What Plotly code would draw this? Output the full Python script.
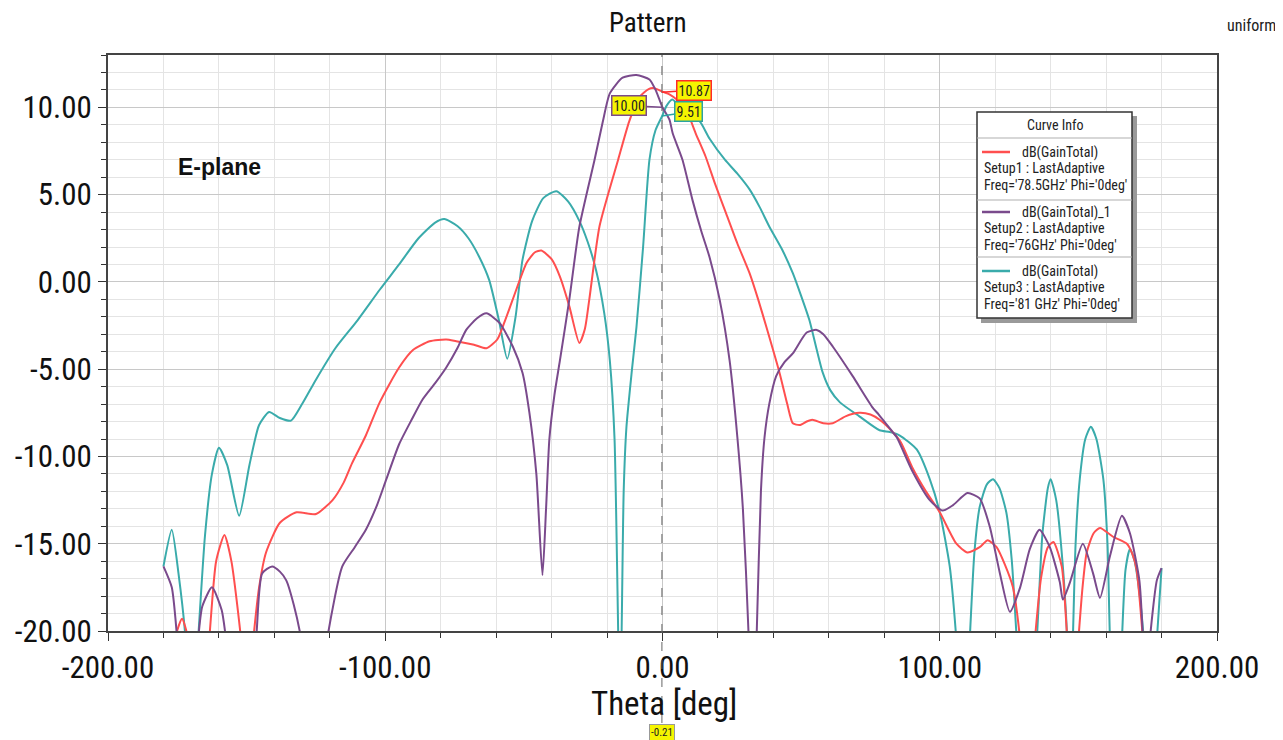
import plotly.graph_objects as go

# ---------------- data ----------------
theta_81 = [-180, -177, -174.5, -172, -170, -167.5, -165, -162.5, -160, -157, -152.7, -149, -145.5, -141.9,
            -138, -134, -130, -125, -118, -110, -102, -95, -88, -82, -78.7, -74, -70, -66, -62.5, -59, -56,
            -53, -50.5, -47, -43, -38.3, -34, -30, -27, -24, -21, -19, -17.3, -15.3, -14, -13, -11, -9.4,
            -7, -4.7, -2.5, 0, 1.5, 3.5, 6, 10.8, 13.4, 17, 22.5, 27, 31.4, 35, 38.6, 43, 47, 50, 53, 55.5,
            57.8, 60.5, 64, 71, 78.3, 82, 85.6, 91.7, 96.4, 100, 103.6, 106, 108.5, 110.8, 112.5, 114.4,
            117, 119.2, 121.5, 124, 126, 127.8, 131.5, 135, 137, 139, 140, 142, 144.4, 146, 147, 148, 149,
            150.5, 152.5, 154.5, 156.5, 159, 160.5, 161.4, 163.5, 165.7, 167, 168.6, 170.3, 172, 173.6,
            176, 178.3, 180]
gain_81 = [-16.3, -14.2, -16.8, -20.5, -27, -20.5, -14.5, -11, -9.5, -10.5, -13.4, -10.5, -8.2, -7.45,
           -7.8, -7.95, -7.0, -5.6, -3.8, -2.2, -0.45, 1.0, 2.5, 3.4, 3.6, 3.2, 2.5, 1.4, 0.1, -2.2, -4.4,
           -2.0, 1.26, 3.5, 4.8, 5.2, 4.6, 3.5, 2.3, 0.7, -1.8, -4.5, -9.0, -25, -12, -8.3, -5.0, -2.6,
           2.0, 7.0, 8.7, 9.55, 10.1, 10.45, 10.1, 9.4, 9.2, 8.2, 7.0, 6.2, 5.3, 4.3, 3.15, 1.9, 0.5, -0.8,
           -2.2, -3.8, -5.2, -6.2, -6.9, -7.7, -8.5, -8.6, -8.8, -9.6, -11.3, -13.2, -16.3, -20.5, -27,
           -20.5, -15.5, -12.9, -11.6, -11.3, -11.8, -13.2, -16, -20.5, -28, -20.5, -14.5, -11.8, -11.3,
           -12.5, -16.3, -20.5, -25, -20.5, -15, -11.3, -9.0, -8.3, -9.0, -11.3, -15, -20.5, -28, -20.5,
           -16.5, -15.3, -16.0, -17.8, -20.5, -27, -20.5, -16.4]

theta_785 = [-180, -176, -173.3, -171, -167, -163.5, -161, -158, -155.5, -152, -150, -147.6, -145.5, -143,
             -138, -132, -125, -119, -115, -112, -107, -102, -95, -90, -84, -78, -74.4, -68, -63.5, -59.6,
             -57, -54, -49, -46, -43.7, -40, -37, -33.6, -30, -28, -26.4, -22.7, -16, -12, -8.3, -5, -3,
             0, 2.5, 5.5, 8.7, 12, 15.5, 19, 23, 27, 31.4, 34.5, 37.5, 42.2, 45, 47, 49.5, 52, 54, 58, 61.4,
             66, 71, 75, 78.3, 83, 86, 90, 95, 100, 106, 110, 114.4, 117.3, 120.5, 123.5, 126.4, 129, 131.5,
             134.3, 136.5, 139, 141, 144, 146, 148, 150, 151.5, 153, 155.5, 157.8, 162.5, 167.5, 169.5, 171,
             173.3, 176, 180]
gain_785 = [-24, -20.5, -19.3, -20.5, -27, -20.5, -16, -14.5, -16, -20.5, -25, -20.5, -17.5, -15.5,
            -13.8, -13.2, -13.3, -12.5, -11.5, -10.4, -8.8, -6.9, -4.9, -3.9, -3.4, -3.3, -3.4, -3.6, -3.8,
            -3.3, -2.3, -1.0, 1.1, 1.7, 1.8, 1.3, 0.3, -1.4, -3.5, -2.7, -1.0, 3.2, 7.0, 9.2, 10.6, 11.05,
            11.1, 10.9, 10.75, 10.4, 9.8, 8.5, 7.2, 5.6, 3.9, 2.2, 0.5, -1.0, -2.6, -5.2, -7.0, -8.1, -8.2,
            -8.0, -7.9, -8.1, -8.1, -7.7, -7.5, -7.6, -7.9, -8.6, -9.2, -10.6, -12.0, -13.2, -15.0, -15.5,
            -15.2, -14.8, -15.2, -16.2, -17.5, -20.5, -26, -20.5, -17, -15.2, -14.9, -16.3, -20.5, -25,
            -20.5, -17.5, -15.5, -14.4, -14.1, -14.6, -15.0, -15.6, -16.5, -20.5, -27, -28]

theta_76 = [-180, -177, -175, -171, -167.5, -166, -162.5, -159, -157.4, -152, -146.6, -144.4, -140.8, -138,
            -135.7, -133, -130.3, -126, -121, -115.5, -111, -107, -103, -99.6, -95, -90.5, -86.6, -82, -78,
            -74, -70.8, -67, -63.5, -58.8, -54, -50.5, -48, -45.5, -43.3, -42, -40.8, -39, -37, -33.6, -30,
            -24.5, -21.5, -19, -14.4, -9.4, -4.7, -2.5, -1, 0, 2.5, 3.7, 7.2, 10.8, 14, 17, 20.6, 24.2, 27,
            29, 31, 32.3, 34, 35.5, 36.8, 38.5, 41, 44, 47, 52, 55.6, 58, 61.4, 68.6, 75.8, 78, 83, 84.5,
            90, 96.4, 101, 104.7, 110, 114.4, 118, 121.7, 125.3, 129, 132.5, 136, 139.7, 143.3, 144.4, 147,
            151.6, 155.3, 157.8, 161.4, 165.7, 168.6, 172, 173.3, 174.5, 175.8, 178.3, 180]
gain_76 = [-16.3, -17.5, -20.5, -28, -20.5, -18.6, -17.5, -18.8, -20.5, -28, -20.5, -16.7, -16.3, -16.6,
           -17.1, -18.5, -20.5, -27, -20.5, -16.3, -15.2, -14.2, -12.8, -11.3, -9.3, -7.9, -6.75, -5.8,
           -4.9, -3.8, -2.75, -2.1, -1.8, -2.35, -3.7, -5.2, -7.5, -11, -16.8, -13, -9.0, -6.5, -4.5, -1.0,
           3.15, 7.0, 9.2, 10.8, 11.7, 11.85, 11.6, 11.0, 10.4, 10.0, 9.3, 8.5, 7.0, 4.7, 2.9, 1.4, -1.0,
           -4.5, -8.9, -13, -20, -28, -20, -12, -8.9, -7.0, -5.4, -4.6, -4.1, -2.9, -2.75, -3.0, -3.7, -5.4,
           -7.2, -7.6, -8.6, -8.9, -10.8, -12.5, -13.1, -12.8, -12.1, -12.4, -14.0, -16.7, -18.9, -17.5,
           -15.3, -14.2, -15.2, -17.2, -18.2, -17.2, -15.0, -16.7, -18.1, -15.7, -13.4, -14.4, -17.1,
           -20.5, -25, -20.5, -17.1, -16.4]

x_tick_vals = [-200, -100, 0, 100, 200]
x_tick_text = ["-200.00", "-100.00", "0.00", "100.00", "200.00"]
y_tick_vals = [-20, -15, -10, -5, 0, 5, 10]
y_tick_text = ["-20.00", "-15.00", "-10.00", "-5.00", "0.00", "5.00", "10.00"]

marker_theta = -0.21
marker_785 = 10.87
marker_76 = 10.00
marker_81 = 9.51

legend_entries = [
    ("dB(GainTotal)", "Setup1 : LastAdaptive", "Freq='78.5GHz' Phi='0deg'"),
    ("dB(GainTotal)_1", "Setup2 : LastAdaptive", "Freq='76GHz' Phi='0deg'"),
    ("dB(GainTotal)", "Setup3 : LastAdaptive", "Freq='81 GHz' Phi='0deg'"),
]

# ---------------- styling ----------------
RED = "#ff4f4f"
PURPLE = "#7a4a8c"
TEAL = "#3aabab"
NARROW = "Roboto Condensed, Liberation Sans Narrow, Arial Narrow, sans-serif"

OFF = 8  # page body margin
W, H = 1283 - OFF, 740 - OFF
ML, MT = 108 - OFF, 55 - OFF
MR = W - (1217 - OFF)
MB = H - (631 - OFF)
PW, PH = W - ML - MR, H - MT - MB


def px2x(px):
    """reference screen pixel -> paper x"""
    return (px - OFF - ML) / PW


def px2y(py):
    """reference screen pixel -> paper y"""
    return (H - MB - (py - OFF)) / PH


fig = go.Figure()
for th, g, col in [(theta_81, gain_81, TEAL), (theta_785, gain_785, RED), (theta_76, gain_76, PURPLE)]:
    fig.add_trace(go.Scatter(x=th, y=g, mode="lines",
                             line=dict(color=col, width=2, shape="spline", smoothing=0.6),
                             showlegend=False, hoverinfo="skip"))

shapes = []
annotations = []

# marker dashed line
shapes.append(dict(type="line", xref="x", yref="paper", x0=marker_theta, x1=marker_theta,
                   y0=px2y(723), y1=1, line=dict(color="#666666", width=1, dash="dash"), layer="above"))

# legend box
shapes.append(dict(type="rect", xref="paper", yref="paper", x0=px2x(981), x1=px2x(1137),
                   y0=px2y(323), y1=px2y(116), fillcolor="#9a9a9a", line=dict(width=0)))
shapes.append(dict(type="rect", xref="paper", yref="paper", x0=px2x(977), x1=px2x(1132),
                   y0=px2y(318), y1=px2y(112), fillcolor="white", line=dict(color="#333333", width=1.5)))
for sy in [138, 200, 257]:
    shapes.append(dict(type="line", xref="paper", yref="paper", x0=px2x(977), x1=px2x(1132),
                       y0=px2y(sy), y1=px2y(sy), line=dict(color="#b0b0b0", width=1.2)))
annotations.append(dict(xref="paper", yref="paper", x=px2x(1055), y=px2y(125), text="Curve Info",
                        showarrow=False, font=dict(family=NARROW, size=14, color="#222"),
                        xanchor="center", yanchor="middle"))
for (l1, l2, l3), col, y0 in zip(legend_entries, [RED, PURPLE, TEAL], [152, 212, 271]):
    shapes.append(dict(type="line", xref="paper", yref="paper", x0=px2x(982), x1=px2x(1010),
                       y0=px2y(y0), y1=px2y(y0), line=dict(color=col, width=2.5)))
    annotations.append(dict(xref="paper", yref="paper", x=px2x(1020), y=px2y(y0), text=l1,
                            showarrow=False, font=dict(family=NARROW, size=14, color="#222"),
                            xanchor="left", yanchor="middle"))
    annotations.append(dict(xref="paper", yref="paper", x=px2x(982), y=px2y(y0 + 16), text=l2,
                            showarrow=False, font=dict(family=NARROW, size=14, color="#222"),
                            xanchor="left", yanchor="middle"))
    annotations.append(dict(xref="paper", yref="paper", x=px2x(982), y=px2y(y0 + 33), text=l3,
                            showarrow=False, font=dict(family=NARROW, size=14, color="#222"),
                            xanchor="left", yanchor="middle"))

# marker labels
for val, col, ax, ay in [(marker_785, "#ff2a2a", 32, -2), (marker_76, "#7a4a8c", -33, -2),
                         (marker_81, "#2aa3a3", 27, -4)]:
    annotations.append(dict(xref="x", yref="y", x=marker_theta, y=val, text=f"{val:.2f}",
                            showarrow=True, arrowhead=0, arrowwidth=1.5, arrowcolor=col, ax=ax, ay=ay,
                            bgcolor="#f5f500", bordercolor=col, borderwidth=1.5, borderpad=1,
                            font=dict(family=NARROW, size=14, color="#222")))
annotations.append(dict(xref="x", yref="paper", x=marker_theta, y=px2y(732), text=f"{marker_theta:.2f}",
                        showarrow=False, bgcolor="#f5f500", bordercolor="#999999", borderwidth=1,
                        borderpad=1, font=dict(family=NARROW, size=11, color="#222"),
                        xanchor="center", yanchor="middle"))

# texts
annotations.append(dict(xref="paper", yref="paper", x=px2x(664), y=px2y(703), text="Theta [deg]",
                        showarrow=False, font=dict(family=NARROW, size=33, color="#111"),
                        xanchor="center", yanchor="middle"))
annotations.append(dict(xref="paper", yref="paper", x=px2x(648), y=px2y(23), text="Pattern",
                        showarrow=False, font=dict(family=NARROW, size=27, color="#111"),
                        xanchor="center", yanchor="middle"))
annotations.append(dict(xref="paper", yref="paper", x=px2x(1251), y=px2y(25), text="uniform",
                        showarrow=False, font=dict(family=NARROW, size=16, color="#222"),
                        xanchor="center", yanchor="middle"))
annotations.append(dict(xref="paper", yref="paper", x=px2x(176), y=px2y(167), text="<b>E-plane</b>",
                        showarrow=False, font=dict(family="Liberation Sans, Arial, sans-serif", size=23,
                                                   color="#111"),
                        xanchor="left", yanchor="middle"))

fig.update_layout(
    width=W, height=H, margin=dict(l=ML, r=MR, t=MT, b=MB, autoexpand=False),
    paper_bgcolor="white", plot_bgcolor="white",
    shapes=shapes, annotations=annotations,
    xaxis=dict(range=[-200, 200], tickmode="array", tickvals=x_tick_vals, ticktext=x_tick_text,
               automargin=False,
               ticks="outside", ticklen=8, tickcolor="#333", tickwidth=1.2,
               tickfont=dict(family=NARROW, size=31, color="#111"),
               showgrid=True, gridcolor="#c8c8c8", gridwidth=1.2, zeroline=False,
               showline=True, linecolor="#444", linewidth=1.8, mirror=True,
               minor=dict(dtick=20, tick0=0, ticks="outside", ticklen=5, tickcolor="#333",
                          showgrid=True, gridcolor="#e4e4e4", gridwidth=1)),
    yaxis=dict(range=[-20, 13], tickmode="array", tickvals=y_tick_vals, ticktext=y_tick_text,
               automargin=False,
               ticks="outside", ticklen=8, tickcolor="#333", tickwidth=1.2,
               tickfont=dict(family=NARROW, size=31, color="#111"),
               showgrid=True, gridcolor="#c8c8c8", gridwidth=1.2, zeroline=False,
               showline=True, linecolor="#444", linewidth=1.8, mirror=True,
               minor=dict(dtick=1, tick0=0, ticks="outside", ticklen=5, tickcolor="#333",
                          showgrid=True, gridcolor="#e4e4e4", gridwidth=1)),
)

fig.write_html("out.html")
